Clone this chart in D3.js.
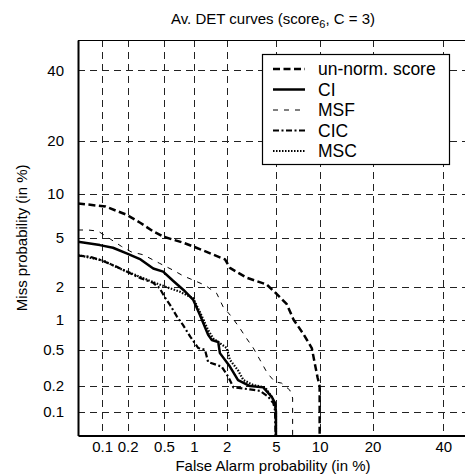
<!DOCTYPE html>
<html>
<head>
<meta charset="utf-8">
<script src="https://cdn.jsdelivr.net/npm/d3@7"></script>
<style>
  body { margin: 0; background: #fff; }
  svg { display: block; font-family: "Liberation Sans", Arial, sans-serif; }
</style>
</head>
<body>
<div id="chart"></div>
<script>
// tick values (in %) shared by both axes
const tickVals = [0.1, 0.2, 0.5, 1, 2, 5, 10, 20, 40];
const tickLabels = ["0.1", "0.2", "0.5", "1", "2", "5", "10", "20", "40"];

// curves: [false alarm %, miss %]
const unnorm = [[0.05, 8.7], [0.11, 8.3], [0.195, 7.3], [0.28, 6.4], [0.38, 5.6], [0.49, 5.1], [0.78, 4.6], [0.98, 4.3],
  [1.42, 3.8], [1.93, 3.4], [2.13, 2.9], [2.95, 2.4], [4.25, 2.1], [4.9, 1.8], [6.0, 1.4], [6.7, 1.0], [7.8, 0.73],
  [8.9, 0.52], [9.3, 0.36], [9.7, 0.25], [10, 0.2], [10, 0.03]];
const ci = [[0.05, 4.66], [0.094, 4.4], [0.135, 4.2], [0.195, 3.8], [0.28, 3.4], [0.385, 2.87], [0.49, 2.7], [0.62, 2.26],
  [0.79, 1.88], [0.985, 1.53], [1.14, 1.11], [1.36, 0.71], [1.47, 0.63], [1.68, 0.6], [1.74, 0.46], [2.13, 0.33],
  [2.5, 0.234], [3.14, 0.2], [4.0, 0.193], [4.65, 0.15], [4.92, 0.126], [5, 0.1], [5, 0.03]];
const msf = [[0.05, 5.7], [0.067, 5.7], [0.089, 5.6], [0.125, 4.9], [0.17, 4.3], [0.22, 3.9], [0.3, 3.7], [0.45, 3.16],
  [0.62, 2.78], [0.79, 2.48], [0.985, 2.29], [1.27, 2.07], [1.63, 1.75], [1.86, 1.32], [2.2, 1.07], [2.6, 0.82],
  [2.95, 0.65], [3.34, 0.52], [3.77, 0.39], [4.3, 0.28], [4.9, 0.224], [5.5, 0.216], [6.3, 0.18], [6.6, 0.145], [6.6, 0.03]];
const cic = [[0.05, 3.65], [0.071, 3.57], [0.103, 3.3], [0.15, 2.96], [0.195, 2.7], [0.28, 2.38], [0.385, 2.17], [0.45, 1.95],
  [0.51, 1.62], [0.58, 1.37], [0.68, 1.07], [0.78, 0.89], [0.92, 0.68], [1.1, 0.52], [1.27, 0.5], [1.36, 0.37],
  [1.8, 0.33], [2.06, 0.255], [2.28, 0.193], [3.14, 0.183], [3.77, 0.176], [4.38, 0.15], [4.78, 0.126], [4.92, 0.104], [5, 0.03]];
const msc = [[0.05, 3.68], [0.103, 3.33], [0.163, 2.86], [0.28, 2.43], [0.385, 2.2], [0.525, 2.0], [0.73, 1.81], [0.98, 1.59],
  [1.14, 1.18], [1.36, 0.79], [1.52, 0.65], [2.0, 0.52], [2.13, 0.39], [2.5, 0.3], [2.77, 0.234], [3.34, 0.205],
  [4.13, 0.193], [4.65, 0.15], [4.92, 0.126], [5, 0.1], [5, 0.03]];

const seriesNames = ["un-norm. score", "CI", "MSF", "CIC", "MSC"];
const seriesData = [unnorm, ci, msf, cic, msc];
const seriesStyle = [
  { width: 2.5, dash: "7,3.5" },
  { width: 2.5, dash: null },
  { width: 1, dash: "5,6" },
  { width: 2.2, dash: "6,2.5,2,2.5" },
  { width: 2.2, dash: "1.5,1.5" }
];

// inverse normal cdf (Acklam)
function probit(p) {
  const a = [-3.969683028665376e+01, 2.209460984245205e+02, -2.759285104469687e+02, 1.383577518672690e+02, -3.066479806614716e+01, 2.506628277459239e+00];
  const b = [-5.447609879822406e+01, 1.615858368580409e+02, -1.556989798598866e+02, 6.680131188771972e+01, -1.328068155288572e+01];
  const c = [-7.784894002430293e-03, -3.223964580411365e-01, -2.400758277161838e+00, -2.549732539343734e+00, 4.374664141464968e+00, 2.938163982698783e+00];
  const d = [7.784695709041462e-03, 3.224671290700398e-01, 2.445134137142996e+00, 3.754408361502229e+00];
  const plow = 0.02425;
  let q, r;
  if (p < plow) {
    q = Math.sqrt(-2 * Math.log(p));
    return (((((c[0]*q+c[1])*q+c[2])*q+c[3])*q+c[4])*q+c[5]) / ((((d[0]*q+d[1])*q+d[2])*q+d[3])*q+1);
  } else if (p <= 1 - plow) {
    q = p - 0.5; r = q*q;
    return (((((a[0]*r+a[1])*r+a[2])*r+a[3])*r+a[4])*r+a[5])*q / (((((b[0]*r+b[1])*r+b[2])*r+b[3])*r+b[4])*r+1);
  }
  q = Math.sqrt(-2 * Math.log(1 - p));
  return -(((((c[0]*q+c[1])*q+c[2])*q+c[3])*q+c[4])*q+c[5]) / ((((d[0]*q+d[1])*q+d[2])*q+d[3])*q+1);
}
const pct = (v) => probit(v / 100);

const W = 465, H = 476;
const plotLeft = 78, plotTop = 40, plotBottom = 435.6, plotRight = 473.8;

const svg = d3.select("#chart").append("svg")
  .attr("width", W)
  .attr("height", H);

const x = d3.scaleLinear().domain([pct(0.05), pct(50)]).range([plotLeft, plotRight]);
const y = d3.scaleLinear().domain([pct(0.05), pct(50)]).range([plotBottom, plotTop]);

svg.append("defs").append("clipPath").attr("id", "plot-clip")
  .append("rect")
  .attr("x", plotLeft).attr("y", plotTop)
  .attr("width", plotRight - plotLeft).attr("height", plotBottom - plotTop);

// grid
const grid = svg.append("g").attr("stroke", "#222").attr("stroke-width", 1).attr("stroke-dasharray", "7,5");
grid.selectAll(".gx").data(tickVals).enter().append("line")
  .attr("x1", (d) => Math.round(x(pct(d))) + 0.5)
  .attr("x2", (d) => Math.round(x(pct(d))) + 0.5)
  .attr("y1", plotTop).attr("y2", plotBottom);
grid.selectAll(".gy").data(tickVals).enter().append("line")
  .attr("y1", (d) => Math.round(y(pct(d))) + 0.5)
  .attr("y2", (d) => Math.round(y(pct(d))) + 0.5)
  .attr("x1", plotLeft).attr("x2", plotRight);

// frame
svg.append("line").attr("x1", plotLeft).attr("x2", plotRight).attr("y1", plotTop + 0.5).attr("y2", plotTop + 0.5)
  .attr("stroke", "#000").attr("stroke-width", 1);

// curves
const line = d3.line()
  .x((d) => x(pct(d[0])))
  .y((d) => y(pct(d[1])));

const curves = svg.append("g").attr("clip-path", "url(#plot-clip)");
seriesData.forEach((data, i) => {
  curves.append("path")
    .datum(data)
    .attr("d", line)
    .attr("fill", "none")
    .attr("stroke", "#000")
    .attr("stroke-width", seriesStyle[i].width)
    .attr("stroke-dasharray", seriesStyle[i].dash)
    .attr("stroke-linejoin", "round");
});

// axes
const xAxis = d3.axisBottom(x)
  .tickValues(tickVals.map(pct))
  .tickFormat((d, i) => tickLabels[i])
  .tickSize(0).tickSizeOuter(0).tickPadding(6);
const yAxis = d3.axisLeft(y)
  .tickValues(tickVals.map(pct))
  .tickFormat((d, i) => tickLabels[i])
  .tickSize(0).tickSizeOuter(0).tickPadding(14);

const gx = svg.append("g").attr("transform", "translate(0," + plotBottom + ")").call(xAxis);
const gy = svg.append("g").attr("transform", "translate(" + plotLeft + ",0)").call(yAxis);
[gx, gy].forEach((g) => {
  g.select(".domain").attr("stroke", "#000").attr("stroke-width", 2);
  g.selectAll("text").attr("font-size", 15).attr("fill", "#000")
    .attr("font-family", "Liberation Sans, Arial, sans-serif");
});

// titles
const title = svg.append("text")
  .attr("x", 273).attr("y", 24)
  .attr("text-anchor", "middle")
  .attr("font-size", 15);
title.append("tspan").text("Av. DET curves (score");
title.append("tspan").attr("font-size", 11).attr("dy", 4).text("6");
title.append("tspan").attr("dy", -4).text(", C = 3)");

svg.append("text")
  .attr("x", 273).attr("y", 471)
  .attr("text-anchor", "middle")
  .attr("font-size", 15)
  .text("False Alarm probability (in %)");

svg.append("text")
  .attr("transform", "translate(27," + (plotTop + plotBottom) / 2 + ") rotate(-90)")
  .attr("text-anchor", "middle")
  .attr("font-size", 15)
  .text("Miss probability (in %)");

// legend
const legend = svg.append("g");
legend.append("rect")
  .attr("x", 262.5).attr("y", 54.5)
  .attr("width", 187).attr("height", 110)
  .attr("fill", "#fff").attr("stroke", "#000").attr("stroke-width", 1.2);

seriesNames.forEach((name, i) => {
  const ly = 69 + i * 20.5;
  legend.append("line")
    .attr("x1", 273).attr("x2", 305)
    .attr("y1", ly).attr("y2", ly)
    .attr("stroke", "#000")
    .attr("stroke-width", seriesStyle[i].width)
    .attr("stroke-dasharray", seriesStyle[i].dash);
  legend.append("text")
    .attr("x", 318).attr("y", ly)
    .attr("dy", "0.35em")
    .attr("font-size", 17.5)
    .text(name);
});
</script>
</body>
</html>
